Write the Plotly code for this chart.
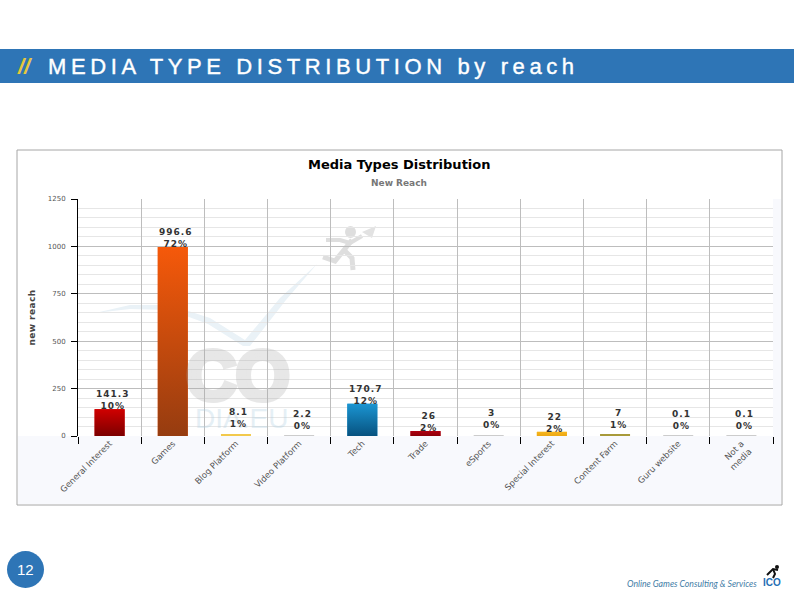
import plotly.graph_objects as go

categories = [
    "General Interest", "Games", "Blog Platform", "Video Platform", "Tech", "Trade",
    "eSports", "Special Interest", "Content Farm", "Guru website", "Not a<br>media",
]
reach = [141.3, 996.6, 8.1, 2.2, 170.7, 26, 3, 22, 7, 0.1, 0.1]
shares = [10, 72, 1, 0, 12, 2, 0, 2, 1, 0, 0]
bar_top = ["#d00000", "#f5590a", "#f2c94c", "#cccccc", "#1b95d2", "#b00010", "#cccccc", "#f7b51c", "#a89a3a", "#cccccc", "#cccccc"]
bar_bottom = ["#7c0000", "#963c10", "#f2c94c", "#cccccc", "#07527f", "#8c0008", "#cccccc", "#eca814", "#a89a3a", "#cccccc", "#cccccc"]
y_ticks = [0, 250, 500, 750, 1000, 1250]

W, H = 794, 595
PLOT_L, PLOT_R, PLOT_T, PLOT_B = 78, 773, 199, 436
BAR_WIDTH = 0.475


def px(x):
    return (x - PLOT_L) / (PLOT_R - PLOT_L)


def py(y):
    return (PLOT_B - y) / (PLOT_B - PLOT_T)


def rect(x0, y0, x1, y1, fill, line=None, layer="below"):
    return dict(
        type="rect", xref="paper", yref="paper", layer=layer,
        x0=px(x0), x1=px(x1), y0=py(y0), y1=py(y1),
        fillcolor=fill, line=dict(color=line or fill, width=1 if line else 0),
    )


def path(points, fill, layer="below", width=0, colour=None):
    d = "M " + " L ".join(f"{px(a):.5f},{py(b):.5f}" for a, b in points)
    if fill:
        d += " Z"
    return dict(
        type="path", xref="paper", yref="paper", layer=layer, path=d,
        fillcolor=fill or "rgba(0,0,0,0)",
        line=dict(color=colour or "rgba(0,0,0,0)", width=width),
    )


def note(x, y, text, size, colour, family="Liberation Sans", xanchor="center", yanchor="middle", opacity=1):
    return dict(
        xref="paper", yref="paper", x=px(x), y=py(y), text=text, showarrow=False,
        xanchor=xanchor, yanchor=yanchor, opacity=opacity,
        font=dict(family=family, size=size, color=colour),
    )


fig = go.Figure()

fig.add_trace(go.Bar(
    x=categories, y=reach, width=BAR_WIDTH, marker=dict(color=bar_top, line=dict(width=0)),
    hoverinfo="x+y", showlegend=False,
))

# plotly bars have no gradient, so the tall ones get a gradient fill on top
for i, value in enumerate(reach):
    if value < 20:
        continue
    left, right = i - BAR_WIDTH / 2, i + BAR_WIDTH / 2
    fig.add_trace(go.Scatter(
        x=[left, right, right, left, left], y=[0, 0, value, value, 0],
        xaxis="x2", mode="lines", fill="toself", line=dict(width=0),
        fillgradient=dict(type="vertical", colorscale=[[0, bar_bottom[i]], [1, bar_top[i]]]),
        hoverinfo="skip", showlegend=False,
    ))

shapes = [
    rect(17, 150, 782, 505, "#ffffff", "#a6a6a6"),
    rect(18, 436, 781, 504, "#f8f9fd"),
    rect(773, 199, 781, 436, "#f8f9fd"),
    rect(0, 49, W, 83, "#2e75b6"),
    # watermark swoosh and runner
    path([(95, 313), (130, 305), (170, 305), (210, 318), (245, 340), (280, 298), (317, 264),
          (286, 300), (250, 346), (243, 346), (208, 324), (170, 310), (130, 309)], "#eaf2f7"),
    path([(323, 257), (335, 261), (344, 250), (352, 240)], None, width=5, colour="#dedede"),
    path([(344, 250), (352, 258), (353, 270)], None, width=5, colour="#dedede"),
    path([(326, 240), (340, 240), (350, 243), (362, 236)], None, width=4, colour="#dedede"),
    path([(362, 232), (376, 226), (372, 238)], "#e2e2e2"),
    dict(type="circle", xref="paper", yref="paper", layer="below",
         x0=px(345), x1=px(356), y0=py(238), y1=py(226), fillcolor="#dedede", line=dict(width=0)),
    # page number
    dict(type="circle", xref="paper", yref="paper", layer="above",
         x0=px(7), x1=px(44), y0=py(588), y1=py(551), fillcolor="#2e75b6", line=dict(width=0)),
    # footer runner
    path([(767, 575), (773, 569), (778, 570)], None, "above", 2, "#111111"),
    path([(773, 569), (775, 574), (773, 578)], None, "above", 2, "#111111"),
    dict(type="circle", xref="paper", yref="paper", layer="above",
         x0=px(775), x1=px(779), y0=py(569), y1=py(565), fillcolor="#111111", line=dict(width=0)),
]

annotations = [
    note(15, 66, '<b><i>//</i></b>', 22, "#e6c83c", xanchor="left"),
    note(46, 66, '<span style="letter-spacing:4.6px;stroke:#ffffff;stroke-width:0.4px">MEDIA TYPE DISTRIBUTION by reach</span>', 22, "#ffffff", xanchor="left"),
    note(399, 164, "<b>Media Types Distribution</b>", 13, "#000000", "DejaVu Sans"),
    note(399, 183, "<b>New Reach</b>", 9, "#777777", "DejaVu Sans"),
    note(237, 376, '<b><span style="stroke:#aaaaaa;stroke-width:5px;letter-spacing:-1px">CO</span></b>', 70, "#aaaaaa", opacity=0.28),
    note(241, 418, "DIA.EU", 28, "#aacde1", opacity=0.3),
    note(25, 569, "12", 15, "#ffffff"),
    note(759, 583, "<i>Online Games Consulting &amp; Services</i>", 8.7, "#3f7da6", "Lato", xanchor="right"),
    note(772, 582, "<b>ICO</b>", 10, "#1f6fb5"),
]

# value labels sit a bit higher over the bars that are almost flat
for cat, value, share in zip(categories, reach, shares):
    annotations.append(dict(
        x=cat, y=value, yref="y", xref="x", showarrow=False, yanchor="bottom",
        xshift=3, yshift=3 if value < 10 else -4,
        text=f'<b><span style="letter-spacing:1px">{value:g}<br>{share}%</span></b>',
        font=dict(family="DejaVu Sans", size=9, color="#333333"),
    ))

fig.update_layout(
    width=W, height=H, autosize=False, showlegend=False,
    margin=dict(l=PLOT_L, r=W - PLOT_R, t=PLOT_T, b=H - PLOT_B, pad=0),
    paper_bgcolor="#ffffff", plot_bgcolor="#ffffff",
    shapes=shapes, annotations=annotations,
    font=dict(family="DejaVu Sans"),
    xaxis=dict(
        type="category", categoryorder="array", categoryarray=categories,
        range=[-0.5, 10.5], tickson="boundaries", ticks="outside", ticklen=7, tickwidth=1,
        tickcolor="#000000", showline=False, zeroline=False,
        showgrid=True, gridcolor="#bdbdbd", gridwidth=1, tickangle=-45,
        tickfont=dict(size=8.5, color="#555555"),
    ),
    xaxis2=dict(overlaying="x", range=[-0.5, 10.5], visible=False),
    yaxis=dict(
        range=[0, 1250], tickvals=y_ticks, ticks="outside", ticklen=6, tickcolor="#000000",
        showline=True, linecolor="#000000", linewidth=1, zeroline=False,
        showgrid=True, gridcolor="#bdbdbd", gridwidth=1,
        tickfont=dict(size=7, color="#555555"), ticklabelstandoff=4,
        minor=dict(dtick=50, showgrid=True, gridcolor="#e6e6e6", gridwidth=1, ticks=""),
        title=dict(text='<b><span style="letter-spacing:0.4px">new reach</span></b>',
                   font=dict(size=9, color="#444444"), standoff=10),
    ),
)

fig.write_html("out.html", config=dict(displayModeBar=False), post_script="document.body.style.margin='0';")
